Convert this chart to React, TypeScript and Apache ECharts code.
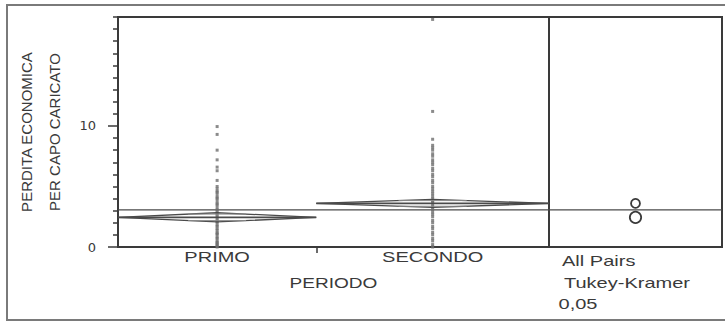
import React, { useEffect, useRef } from 'react';
import * as echarts from 'echarts';

// ---- data ----
const categories = ['PRIMO', 'SECONDO'];
const groupWeights = [46, 54]; // relative widths of the groups on the x axis
const groupMeans = [2.45, 3.6];
const groupCI = [0.38, 0.33];
const circleRadii = [0.47, 0.37];
const grandMean = 3.06;
const primoValues = [
  9.95, 9.3, 8.0, 7.2, 6.6, 6.3, 5.5, 5.0, 4.8, 4.6, 4.5, 4.3, 4.1, 4.0, 3.8, 3.6,
  3.5, 3.3, 3.1, 3.0, 2.8, 2.7, 2.5, 2.4, 2.2, 2.1, 2.0, 1.8, 1.7, 1.5, 1.4, 1.2,
  1.1, 1.0, 0.8, 0.7, 0.5, 0.4, 0.3, 0.2, 0.1, 0.0,
];
const secondoValues = [
  18.8, 11.2, 8.9, 8.4, 8.2, 8.0, 7.7, 7.5, 7.2, 7.0, 6.8, 6.5, 6.3, 6.0, 5.8, 5.5,
  5.3, 5.0, 4.8, 4.6, 4.4, 4.2, 4.0, 3.8, 3.7, 3.5, 3.3, 3.1, 2.9, 2.7, 2.5, 2.2,
  2.0, 1.7, 1.5, 1.2, 1.0, 0.7, 0.5, 0.2, 0.0,
];
const yMajorTicks = [0, 10];
const yMinorTicks = [1, 2, 3, 4, 5, 6, 7, 8, 9, 11, 12, 13, 14, 15, 16, 17, 18, 19];
const yMin = 0;
const yMax = 19;
const xTitle = 'PERIODO';
const yTitleLines = ['PERDITA ECONOMICA', 'PER CAPO CARICATO'];
const testLines = ['All Pairs', 'Tukey-Kramer', '0,05'];

const FONT = '"Liberation Sans", Arial, sans-serif';
const TXT = '#3a3a3a';
const LINE = '#4a4a4a';
const FRAME = '#3a3a3a';

export default function App() {
  const ref = useRef<HTMLDivElement>(null);

  useEffect(() => {
    if (!ref.current) return;
    const chart = echarts.init(ref.current, undefined, { renderer: 'svg' });

    const total = groupWeights.reduce((a, b) => a + b, 0);
    const starts: number[] = [];
    let acc = 0;
    groupWeights.forEach((w) => {
      starts.push(acc);
      acc += w;
    });
    const ends = starts.map((s, i) => s + groupWeights[i]);
    const centers = starts.map((s, i) => (s + ends[i]) / 2);
    const boundaries = ends.slice(0, -1);

    const pointSeries = [primoValues, secondoValues].map((vals, i) => ({
      type: 'scatter',
      xAxisIndex: 0,
      yAxisIndex: 0,
      symbol: 'rect',
      symbolSize: 3,
      itemStyle: { color: '#6e6e6e' },
      data: vals.map((v) => [centers[i], v]),
      z: 2,
    }));

    const diamondData = categories.map((_, i) => [starts[i], ends[i], groupMeans[i], groupCI[i]]);

    const option: any = {
      animation: false,
      grid: [
        { left: 118, top: 17, width: 431, height: 230, show: true, borderColor: FRAME, borderWidth: 2, backgroundColor: 'transparent' },
        { left: 549, top: 17, width: 173, height: 230, show: true, borderColor: FRAME, borderWidth: 2, backgroundColor: 'transparent' },
      ],
      xAxis: [
        {
          type: 'value', gridIndex: 0, min: 0, max: total,
          axisLine: { show: true, onZero: false, lineStyle: { color: FRAME, width: 2 } },
          axisTick: { show: true, customValues: boundaries, length: 6, lineStyle: { color: FRAME, width: 1.5 } },
          axisLabel: { show: false },
          splitLine: { show: false },
        },
        { type: 'value', gridIndex: 1, min: 0, max: 1, show: false },
      ],
      yAxis: [
        {
          type: 'value', gridIndex: 0, min: yMin, max: yMax, interval: 10,
          name: yTitleLines.join('\n'),
          nameLocation: 'middle',
          nameRotate: 90,
          nameGap: 48,
          nameTextStyle: { fontFamily: FONT, fontSize: 15, color: TXT, lineHeight: 28 },
          axisLine: { show: true, lineStyle: { color: FRAME, width: 2 } },
          axisTick: { show: true, customValues: yMajorTicks, length: 10, lineStyle: { color: FRAME, width: 1.5 } },
          axisLabel: { show: true, customValues: yMajorTicks, margin: 22, fontFamily: '"DejaVu Sans", sans-serif', fontSize: 13, color: TXT },
          splitLine: { show: false },
        },
        { type: 'value', gridIndex: 1, min: yMin, max: yMax, show: false },
        {
          type: 'value', gridIndex: 0, min: yMin, max: yMax, position: 'left',
          axisLine: { show: false },
          axisTick: { show: true, customValues: yMinorTicks, length: 5, lineStyle: { color: FRAME, width: 1.5 } },
          axisLabel: { show: false },
          splitLine: { show: false },
        },
      ],
      series: [
        ...pointSeries,
        {
          type: 'custom',
          xAxisIndex: 0,
          yAxisIndex: 0,
          data: diamondData,
          encode: { x: [0, 1], y: [2] },
          z: 3,
          renderItem: (params: any, api: any) => {
            const l = api.value(0), r = api.value(1), m = api.value(2), ci = api.value(3);
            const c = (l + r) / 2;
            const k = Math.SQRT1_2;
            const pL = api.coord([l, m]);
            const pR = api.coord([r, m]);
            const pT = api.coord([c, m + ci]);
            const pB = api.coord([c, m - ci]);
            const half = (r - l) / 2 * (1 - k);
            const o1a = api.coord([c - half, m + ci * k]);
            const o1b = api.coord([c + half, m + ci * k]);
            const o2a = api.coord([c - half, m - ci * k]);
            const o2b = api.coord([c + half, m - ci * k]);
            return {
              type: 'group',
              children: [
                { type: 'polygon', shape: { points: [pL, pT, pR, pB] }, style: { fill: 'none', stroke: LINE, lineWidth: 1.3 } },
                { type: 'line', shape: { x1: pL[0], y1: pL[1], x2: pR[0], y2: pR[1] }, style: { stroke: LINE, lineWidth: 1.6 } },
                { type: 'line', shape: { x1: o1a[0], y1: o1a[1], x2: o1b[0], y2: o1b[1] }, style: { stroke: '#8a8a8a', lineWidth: 1 } },
                { type: 'line', shape: { x1: o2a[0], y1: o2a[1], x2: o2b[0], y2: o2b[1] }, style: { stroke: '#8a8a8a', lineWidth: 1 } },
              ],
            };
          },
        },
        {
          type: 'line', xAxisIndex: 0, yAxisIndex: 0, showSymbol: false, silent: true,
          lineStyle: { color: LINE, width: 1.3 },
          data: [[0, grandMean], [total, grandMean]],
          z: 1,
        },
        {
          type: 'line', xAxisIndex: 1, yAxisIndex: 1, showSymbol: false, silent: true,
          lineStyle: { color: LINE, width: 1.3 },
          data: [[0, grandMean], [1, grandMean]],
          z: 1,
        },
        {
          type: 'custom',
          xAxisIndex: 1,
          yAxisIndex: 1,
          data: categories.map((_, i) => [0.5, groupMeans[i], circleRadii[i]]),
          encode: { x: [0], y: [1] },
          z: 3,
          renderItem: (params: any, api: any) => {
            const p = api.coord([api.value(0), api.value(1)]);
            const rr = api.size([0, api.value(2)])[1];
            return {
              type: 'circle',
              shape: { cx: p[0], cy: p[1], r: rr },
              style: { fill: 'none', stroke: FRAME, lineWidth: 1.8 },
            };
          },
        },
      ],
    };

    chart.setOption(option);

    const px = (v: number) => chart.convertToPixel({ xAxisIndex: 0 } as any, v) as number;
    const gridLeft = px(0);
    const gridRight = px(total);
    const labelY = 257.5;
    const txt = (text: string, x: number, y: number, align: string, sx: number) => ({
      type: 'text',
      x,
      y,
      scaleX: sx,
      style: {
        text,
        font: `14px ${FONT}`,
        fill: TXT,
        align,
        textAlign: align,
        verticalAlign: 'middle',
        textVerticalAlign: 'middle',
      },
      silent: true,
    });

    chart.setOption({
      graphic: [
        {
          type: 'rect',
          shape: { x: 7, y: 5, width: 740, height: 315 },
          style: { fill: 'none', stroke: '#7a7a7a', lineWidth: 2 },
          silent: true,
        },
        ...categories.map((c, i) => txt(c, px(centers[i]), labelY, 'center', 1.43)),
        txt(xTitle, (gridLeft + gridRight) / 2, 283, 'center', 1.36),
        txt(testLines[0], 562, 261, 'left', 1.43),
        txt(testLines[1], 564, 283, 'left', 1.43),
        txt(testLines[2], 558.5, 304, 'left', 1.43),
      ],
    });

    return () => chart.dispose();
  }, []);

  return (
    <div
      ref={ref}
      style={{ position: 'fixed', left: 0, top: 0, width: 725, height: 322, background: '#ffffff' }}
    />
  );
}
